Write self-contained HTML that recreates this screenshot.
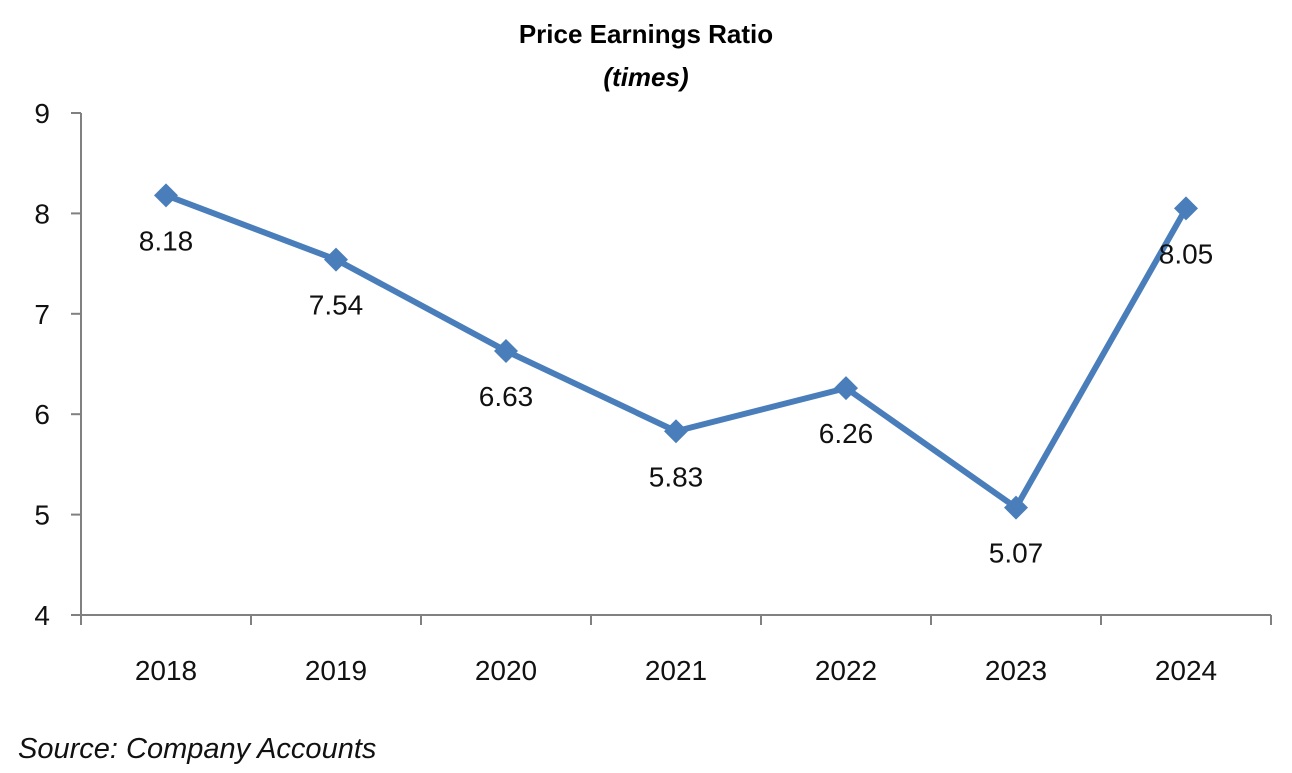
<!DOCTYPE html>
<html><head><meta charset="utf-8"><style>
body{margin:0;background:#fff;width:1292px;height:768px;overflow:hidden;font-family:"Liberation Sans",Arial,sans-serif}
</style></head><body>
<svg id="chart" width="1292" height="768" xmlns="http://www.w3.org/2000/svg" font-family="Liberation Sans, Arial, sans-serif">
<text x="646" y="43" text-anchor="middle" font-size="26" font-weight="bold">Price Earnings Ratio</text>
<text x="646" y="86" text-anchor="middle" font-size="26" font-weight="bold" font-style="italic">(times)</text>
<g id="axes"></g><g id="series"></g>
<text x="18" y="758" font-size="29" font-style="italic" fill="#111">Source: Company Accounts</text>
</svg>
<script>
const categories=["2018","2019","2020","2021","2022","2023","2024"];
const values=[8.18,7.54,6.63,5.83,6.26,5.07,8.05];
const labels=["8.18","7.54","6.63","5.83","6.26","5.07","8.05"];
const yTicks=[4,5,6,7,8,9];
const NS="http://www.w3.org/2000/svg";
const X0=81,X1=1271,Y0=615,Y1=113,ymin=4,ymax=9;
const bw=(X1-X0)/categories.length;
const xs=i=>X0+bw*(i+0.5);
const ys=v=>Y0-(v-ymin)/(ymax-ymin)*(Y0-Y1);
function mk(t,a,p){const e=document.createElementNS(NS,t);for(const k in a)e.setAttribute(k,a[k]);p.appendChild(e);return e;}
const ax=document.getElementById('axes'),se=document.getElementById('series');
let e=mk('line',{x1:X0,y1:Y1,x2:X0,y2:Y0,stroke:'#808080','stroke-width':2},ax);


e=mk('line',{x1:X0,y1:Y0,x2:X1,y2:Y0,stroke:'#808080','stroke-width':2},ax);


yTicks.forEach(v=>{
 mk('line',{x1:X0-10,y1:ys(v),x2:X0,y2:ys(v),stroke:'#808080','stroke-width':2},ax);
 const t=mk('text',{x:50,y:ys(v)+10,'text-anchor':'end','font-size':28,fill:'#111'},ax);
 t.textContent=v;
 
 
});
for(let i=0;i<=categories.length;i++){
 mk('line',{x1:X0+bw*i,y1:Y0,x2:X0+bw*i,y2:Y0+10,stroke:'#808080','stroke-width':2},ax);
}
categories.forEach((c,i)=>{
 const t=mk('text',{x:xs(i),y:680,'text-anchor':'middle','font-size':28,fill:'#111'},ax);
 t.textContent=c;
 
 
});
const pl=mk('polyline',{points:values.map((v,i)=>xs(i)+','+ys(v)).join(' '),fill:'none',stroke:'#4a7ebb','stroke-width':6,'stroke-linejoin':'round'},se);


values.forEach((v,i)=>{
 const x=xs(i),y=ys(v),r=12;
 const p=mk('polygon',{points:`${x},${y-r} ${x+r},${y} ${x},${y+r} ${x-r},${y}`,fill:'#4a7ebb'},se);
 
 
 const t=mk('text',{x:x,y:y+55,'text-anchor':'middle','font-size':28,fill:'#111'},se);
 t.textContent=labels[i];
 
 
});
</script>
</body></html>
